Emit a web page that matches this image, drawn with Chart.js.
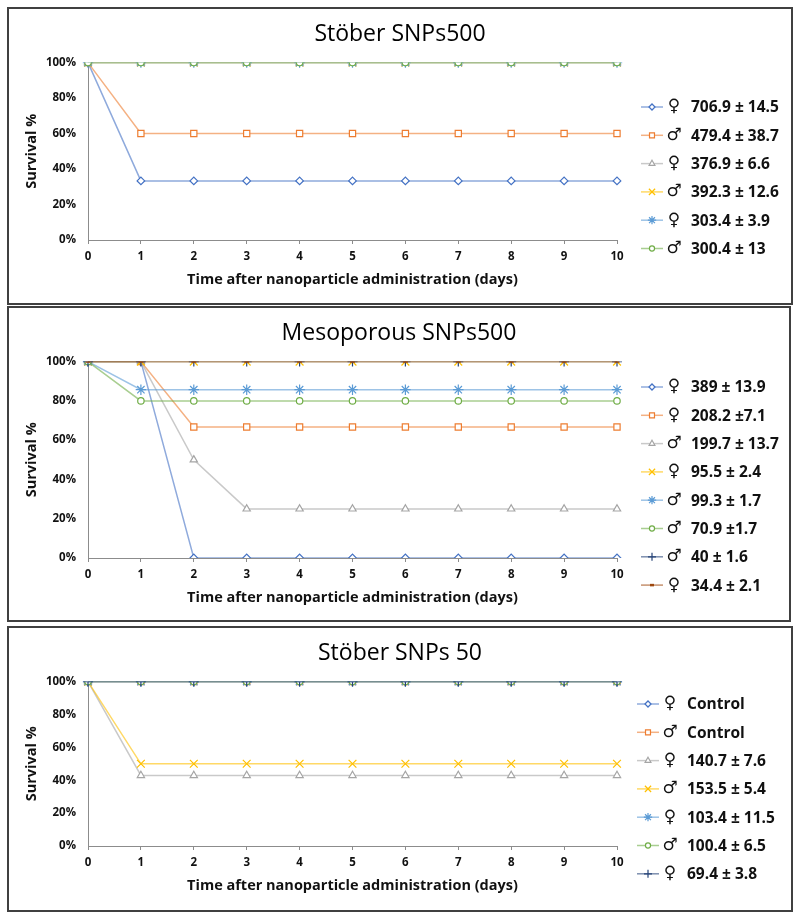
<!DOCTYPE html>
<html>
<head>
<meta charset="utf-8">
<script src="https://cdn.jsdelivr.net/npm/chart.js@4.4.1/dist/chart.umd.min.js"></script>
<style>
  body { margin: 0; background: #fff; width: 800px; height: 917px; position: relative; overflow: hidden; }
  .panel { position: absolute; left: 7px; border: 2px solid #404040; box-sizing: border-box; background: #fff; }
  canvas { display: block; }
</style>
</head>
<body>
<div class="panel" style="top:7px;width:786px;height:298px"><canvas id="c1" width="782" height="294"></canvas></div>
<div class="panel" style="top:306px;width:784px;height:316px"><canvas id="c2" width="780" height="312"></canvas></div>
<div class="panel" style="top:626px;width:786px;height:286px"><canvas id="c3" width="782" height="282"></canvas></div>
<script>
// days on the x axis, survival in percent
const days = ['0', '1', '2', '3', '4', '5', '6', '7', '8', '9', '10'];
const yTicks = [0, 20, 40, 60, 80, 100];

// Stöber SNPs500
const stober500Title = 'Stöber SNPs500';
const stober500Sex = ['♀', '♂', '♀', '♂', '♀', '♂'];
const stober500Dose = ['706.9 ± 14.5', '479.4 ± 38.7', '376.9 ± 6.6', '392.3 ± 12.6', '303.4 ± 3.9', '300.4 ± 13'];
const stober500Survival = [
    [100, 33.3, 33.3, 33.3, 33.3, 33.3, 33.3, 33.3, 33.3, 33.3, 33.3],
    [100, 60, 60, 60, 60, 60, 60, 60, 60, 60, 60],
    [100, 100, 100, 100, 100, 100, 100, 100, 100, 100, 100],
    [100, 100, 100, 100, 100, 100, 100, 100, 100, 100, 100],
    [100, 100, 100, 100, 100, 100, 100, 100, 100, 100, 100],
    [100, 100, 100, 100, 100, 100, 100, 100, 100, 100, 100]
];

// Mesoporous SNPs500
const meso500Title = 'Mesoporous SNPs500';
const meso500Sex = ['♀', '♀', '♂', '♀', '♂', '♂', '♂', '♀'];
const meso500Dose = ['389 ± 13.9', '208.2 ±7.1', '199.7 ± 13.7', '95.5 ± 2.4', '99.3 ± 1.7', '70.9 ±1.7', '40 ± 1.6', '34.4 ± 2.1'];
const meso500Survival = [
    [100, 100, 0, 0, 0, 0, 0, 0, 0, 0, 0],
    [100, 100, 66.7, 66.7, 66.7, 66.7, 66.7, 66.7, 66.7, 66.7, 66.7],
    [100, 100, 50, 25, 25, 25, 25, 25, 25, 25, 25],
    [100, 100, 100, 100, 100, 100, 100, 100, 100, 100, 100],
    [100, 85.7, 85.7, 85.7, 85.7, 85.7, 85.7, 85.7, 85.7, 85.7, 85.7],
    [100, 80, 80, 80, 80, 80, 80, 80, 80, 80, 80],
    [100, 100, 100, 100, 100, 100, 100, 100, 100, 100, 100],
    [100, 100, 100, 100, 100, 100, 100, 100, 100, 100, 100]
];

// Stöber SNPs 50
const stober50Title = 'Stöber SNPs 50';
const stober50Sex = ['♀', '♂', '♀', '♂', '♀', '♂', '♀'];
const stober50Dose = ['Control', 'Control', '140.7 ± 7.6', '153.5 ± 5.4', '103.4 ± 11.5', '100.4 ± 6.5', '69.4 ± 3.8'];
const stober50Survival = [
    [100, 100, 100, 100, 100, 100, 100, 100, 100, 100, 100],
    [100, 100, 100, 100, 100, 100, 100, 100, 100, 100, 100],
    [100, 42.9, 42.9, 42.9, 42.9, 42.9, 42.9, 42.9, 42.9, 42.9, 42.9],
    [100, 50, 50, 50, 50, 50, 50, 50, 50, 50, 50],
    [100, 100, 100, 100, 100, 100, 100, 100, 100, 100, 100],
    [100, 100, 100, 100, 100, 100, 100, 100, 100, 100, 100],
    [100, 100, 100, 100, 100, 100, 100, 100, 100, 100, 100]
];

// excel style series look
const seriesColors = ['#4472C4', '#ED7D31', '#A5A5A5', '#FFC000', '#5B9BD5', '#70AD47', '#264478', '#9E480E'];
const seriesMarkers = ['rectRot', 'rect', 'triangle', 'crossRot', 'star', 'circle', 'cross', 'line'];
const markerRadius = [3.8, 4.4, 4.2, 5.5, 5.2, 3.2, 5, 2.5];

const FONT = '"Open Sans", "DejaVu Sans", sans-serif';
Chart.defaults.font.family = FONT;
Chart.defaults.color = '#111';

function fade(hex, a)
{
    const n = parseInt(hex.slice(1), 16);
    return 'rgba(' + (n >> 16) + ',' + ((n >> 8) & 255) + ',' + (n & 255) + ',' + a + ')';
}

// legend drawn at the right of the plot: line + marker, sex symbol, dose
const sideLegend = {
    id: 'sideLegend',
    afterDraw(chart, args, opts)
    {
        const ctx = chart.ctx;
        ctx.save();
        chart.data.datasets.forEach((ds, i) =>
        {
            const y = opts.y + i * opts.gap;
            ctx.strokeStyle = ds.borderColor;
            ctx.lineWidth = 1.5;
            ctx.beginPath();
            ctx.moveTo(opts.x, y);
            ctx.lineTo(opts.x + 22, y);
            ctx.stroke();
            ctx.strokeStyle = ds.pointBorderColor;
            ctx.fillStyle = ds.pointBackgroundColor;
            ctx.lineWidth = ds.pointBorderWidth;
            Chart.helpers.drawPoint(ctx, {
                pointStyle: ds.pointStyle,
                radius: ds.pointRadius * 0.8,
                rotation: 0,
                borderWidth: ds.pointBorderWidth
            }, opts.x + 11, y);
            ctx.fillStyle = '#111';
            ctx.textBaseline = 'middle';
            ctx.textAlign = 'center';
            ctx.font = '17px "DejaVu Sans"';
            ctx.fillText(opts.sexes[i], opts.x + 33, y);
            ctx.textAlign = 'left';
            ctx.font = 'bold 15.5px ' + FONT;
            ctx.fillText(opts.doses[i], opts.x + 50, y + 1);
        });
        ctx.restore();
    }
};

function buildChart(id, title, sexes, doses, survival, plotBottom, legendX, legendY)
{
    const canvas = document.getElementById(id);
    const W = canvas.width;
    const H = canvas.height;
    const n = survival.length;

    const datasets = survival.map((values, i) => ({
        label: sexes[i] + ' ' + doses[i],
        data: values,
        borderColor: fade(seriesColors[i], 0.6),
        borderWidth: 1.5,
        pointStyle: seriesMarkers[i],
        pointRadius: markerRadius[i],
        pointBorderColor: seriesColors[i],
        pointBackgroundColor: '#fff',
        pointBorderWidth: seriesMarkers[i] === 'line' ? 2.5 : 1.2,
        tension: 0,
        order: n - i
    }));

    return new Chart(canvas, {
        type: 'line',
        data: { labels: days, datasets },
        plugins: [sideLegend],
        options: {
            responsive: false,
            animation: false,
            devicePixelRatio: 1,
            layout: { padding: 0 },
            plugins: {
                legend: { display: false },
                tooltip: { enabled: false },
                title: {
                    display: true,
                    text: title,
                    color: '#000',
                    font: { size: 23, weight: 'normal' },
                    padding: { top: 12, bottom: 14 }
                },
                sideLegend: { x: legendX, y: legendY, gap: 28.3, sexes, doses }
            },
            scales: {
                x: {
                    type: 'category',
                    offset: false,
                    grid: { display: true, drawOnChartArea: false, tickLength: 4, color: '#8c8c8c' },
                    border: { color: '#8c8c8c', width: 1 },
                    ticks: { padding: 6, maxRotation: 0, font: { size: 11.5, weight: 'bold' } },
                    title: {
                        display: true,
                        text: 'Time after nanoparticle administration (days)',
                        font: { size: 14.5, weight: 'bold' },
                        padding: { top: 0, bottom: H - plotBottom - 48.5 }
                    },
                    afterFit: scale => { scale.height = H - plotBottom; }
                },
                y: {
                    min: 0,
                    max: 100,
                    grid: { display: false, drawTicks: false },
                    border: { color: '#8c8c8c', width: 1 },
                    afterBuildTicks: scale => { scale.ticks = yTicks.map(v => ({ value: v })); },
                    ticks: { padding: 12, font: { size: 11.5, weight: 'bold' }, callback: v => v + '%' },
                    title: {
                        display: true,
                        text: 'Survival %',
                        font: { size: 14.5, weight: 'bold' },
                        padding: { top: 14, bottom: 0 }
                    },
                    afterFit: scale => { scale.width = 79; }
                },
                // empty box on the right that leaves room for the legend
                legendRoom: {
                    type: 'linear',
                    position: 'right',
                    grid: { display: false, drawTicks: false },
                    border: { display: false },
                    ticks: { display: false },
                    afterFit: scale => { scale.width = W - 608; }
                }
            }
        }
    });
}

buildChart('c1', stober500Title, stober500Sex, stober500Dose, stober500Survival, 231, 632, 98);
buildChart('c2', meso500Title, meso500Sex, meso500Dose, meso500Survival, 250, 632, 79);
buildChart('c3', stober50Title, stober50Sex, stober50Dose, stober50Survival, 218, 628, 76);
</script>
</body>
</html>
